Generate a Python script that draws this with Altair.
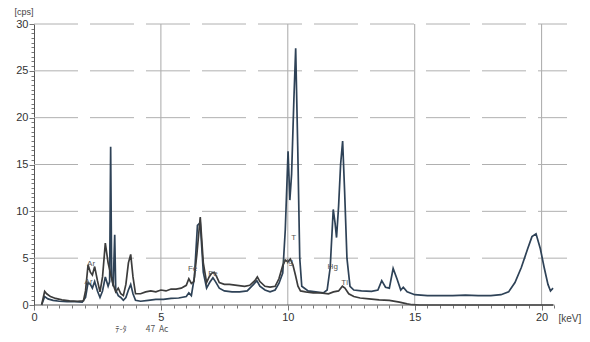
import altair as alt
import pandas as pd

# ---- data ----
gray_kev = [0.30, 0.42, 0.50, 0.65, 0.85, 1.10, 1.40, 1.70, 1.95, 2.03,
            2.13, 2.22, 2.30, 2.39, 2.50, 2.60, 2.70, 2.81, 2.92, 3.02,
            3.12, 3.22, 3.32, 3.42, 3.52, 3.62, 3.72, 3.81, 3.90, 4.00,
            4.20, 4.40, 4.60, 4.80, 5.00, 5.20, 5.40, 5.60, 5.80, 6.00,
            6.10, 6.20, 6.30, 6.42, 6.55, 6.67, 6.80, 6.90, 7.00, 7.10,
            7.20, 7.30, 7.50, 7.70, 8.00, 8.30, 8.50, 8.70, 8.80, 8.90,
            9.10, 9.30, 9.50, 9.65, 9.80, 9.90, 10.00, 10.10, 10.20, 10.30,
            10.40, 10.50, 10.70, 11.00, 11.30, 11.60, 11.80, 12.00, 12.15, 12.25,
            12.40, 12.60, 12.85, 13.20, 13.60, 14.00, 14.40, 14.70, 14.90, 15.20,
            16.00, 17.00, 18.00, 19.00, 20.00, 20.45]
gray_cps = [0.0, 1.45, 1.2, 0.9, 0.7, 0.55, 0.45, 0.4, 0.45, 1.5,
            4.3, 3.5, 3.2, 4.1, 2.6, 1.4, 3.0, 6.6, 4.5, 3.3,
            2.2, 1.4, 1.8, 1.2, 1.0, 2.2, 4.5, 5.4, 3.0, 1.2,
            1.2, 1.4, 1.5, 1.4, 1.6, 1.5, 1.7, 1.7, 1.8, 2.1,
            2.8, 2.3, 2.5, 5.5, 9.4, 4.5, 2.4, 3.0, 3.4, 3.5,
            3.0, 2.4, 2.2, 2.2, 2.1, 2.0, 2.1, 2.6, 3.0, 2.5,
            2.0, 1.9, 2.0, 2.8, 4.2, 4.8, 4.6, 4.9, 4.3, 3.2,
            2.0, 1.5, 1.4, 1.3, 1.3, 1.2, 1.4, 1.5, 2.0, 1.8,
            1.2, 0.9, 0.75, 0.65, 0.55, 0.5, 0.3, 0.12, 0.03, 0.0,
            0.0, 0.0, 0.0, 0.0, 0.0, 0.0]

blue_kev = [0.30, 0.42, 0.55, 0.75, 1.00, 1.30, 1.60, 1.90, 2.03, 2.13,
            2.22, 2.30, 2.39, 2.50, 2.60, 2.70, 2.81, 2.92, 2.98, 3.02,
            3.06, 3.12, 3.18, 3.22, 3.32, 3.42, 3.52, 3.62, 3.72, 3.81,
            3.90, 4.00, 4.20, 4.50, 4.80, 5.10, 5.40, 5.70, 6.00, 6.10,
            6.20, 6.32, 6.44, 6.55, 6.67, 6.80, 6.92, 7.05, 7.15, 7.30,
            7.50, 7.80, 8.10, 8.40, 8.65, 8.78, 8.90, 9.10, 9.30, 9.50,
            9.65, 9.80, 9.90, 10.01, 10.08, 10.15, 10.24, 10.31, 10.39, 10.47,
            10.55, 10.80, 11.10, 11.40, 11.55, 11.67, 11.79, 11.86, 11.92, 12.00,
            12.08, 12.16, 12.24, 12.33, 12.45, 12.60, 12.90, 13.30, 13.55, 13.70,
            13.85, 14.00, 14.15, 14.30, 14.45, 14.55, 14.70, 15.00, 15.50, 16.00,
            16.50, 17.00, 17.50, 18.00, 18.40, 18.70, 18.95, 19.20, 19.45, 19.62,
            19.78, 19.95, 20.10, 20.25, 20.35, 20.45]
blue_cps = [0.0, 0.9, 0.65, 0.5, 0.4, 0.35, 0.35, 0.3, 0.8, 2.4,
            2.2, 1.8, 2.5, 1.5, 0.8, 1.5, 3.0, 2.0, 2.5, 16.9,
            3.0, 2.0, 7.5, 1.6, 1.0, 0.8, 0.5, 0.8, 1.6, 2.2,
            1.2, 0.5, 0.4, 0.5, 0.6, 0.6, 0.7, 0.75, 0.9, 1.3,
            1.0, 3.0, 8.5, 8.8, 3.5, 1.8, 2.4, 2.9, 2.5, 1.8,
            1.5, 1.4, 1.4, 1.5, 2.2, 2.6, 2.0, 1.6, 1.4, 1.6,
            2.3, 3.4, 8.0, 16.4, 11.2, 14.0, 22.0, 27.4, 17.0, 5.0,
            2.0, 1.5, 1.4, 1.3, 1.6, 4.0, 10.2, 8.8, 7.2, 10.5,
            15.0, 17.5, 12.0, 5.0, 2.0, 1.6, 1.5, 1.45, 1.6, 2.6,
            1.9, 1.8, 3.9, 2.8, 1.6, 1.9, 1.4, 1.1, 1.0, 1.0,
            1.0, 1.05, 1.0, 1.0, 1.1, 1.4, 2.4, 4.0, 6.0, 7.3,
            7.6, 6.0, 4.0, 2.2, 1.5, 1.8]

peak_labels = ["Ar", "Ar", "Fe", "Fe", "Hg", "T", "Hg", "Tl"]
peak_kev = [2.25, 2.15, 6.25, 7.05, 10.0, 10.23, 11.77, 12.24]
peak_cps = [4.4, 2.5, 3.8, 3.3, 4.6, 7.2, 4.1, 2.4]

x_ticks = [i * 0.5 for i in range(42)]
y_ticks = [i * 0.5 for i in range(61)]
x_grid = [5, 10, 15, 20]
y_grid = [5, 10, 15, 20, 25, 30]

FONT = "Liberation Sans"

df = pd.concat([
    pd.DataFrame({"keV": blue_kev, "cps": blue_cps, "s": "blue"}),
    pd.DataFrame({"keV": gray_kev, "cps": gray_cps, "s": "gray"}),
])

xscale = alt.Scale(domain=[0, 21], nice=False, zero=False)
yscale = alt.Scale(domain=[0, 30], nice=False)

x_axis = alt.Axis(
    values=x_ticks,
    tickCount=500,
    labelExpr="datum.value % 5 === 0 ? format(datum.value, 'd') : ''",
    labelOverlap=False,
    grid=False,
    domain=False,
    tickColor="#777",
    tickSize={"condition": {"test": "datum.value % 5 === 0", "value": 5}, "value": 3},
    labelFont=FONT, labelFontSize=11, labelColor="#333", labelPadding=1,
    labelFlush=False,
    title="[keV]", titleFont=FONT, titleFontSize=10, titleFontWeight="normal", titleColor="#444",
    titleAngle=0, titleX=524, titleY=13, titleAlign="left", titleBaseline="middle",
)
y_axis = alt.Axis(
    values=y_ticks,
    tickCount=500,
    labelExpr="datum.value % 5 === 0 ? format(datum.value, 'd') : ''",
    labelOverlap=False,
    grid=False,
    domainColor="#555",
    tickColor="#777",
    tickSize={"condition": {"test": "datum.value % 5 === 0", "value": 5}, "value": 3},
    labelFont=FONT, labelFontSize=11, labelColor="#333", labelPadding=1,
    labelFlush=False,
    title="[cps]", titleFont=FONT, titleFontSize=9, titleFontWeight="normal", titleColor="#444",
    titleAngle=0, titleX=-20, titleY=-13, titleAlign="left", titleBaseline="middle",
)

vgrid = alt.Chart(pd.DataFrame({"g": x_grid, "lo": 0.0, "hi": 30.0})).mark_rule(
    color="#a8a8a8", strokeWidth=1
).encode(x=alt.X("g:Q", scale=xscale), y=alt.Y("lo:Q", scale=yscale), y2="hi:Q")

hgrid = alt.Chart(pd.DataFrame({"g": y_grid, "lo": 0.0, "hi": 21.0})).mark_rule(
    color="#b0b0b0", strokeWidth=1, strokeDash=[44, 12]
).encode(y=alt.Y("g:Q", scale=yscale), x=alt.X("lo:Q", scale=xscale), x2="hi:Q")

lines = alt.Chart(df).mark_line(strokeWidth=1.7, interpolate="linear").encode(
    x=alt.X("keV:Q", scale=xscale, axis=x_axis),
    y=alt.Y("cps:Q", scale=yscale, axis=y_axis),
    color=alt.Color("s:N", scale=alt.Scale(domain=["blue", "gray"], range=["#2e4257", "#3c3c3c"]), legend=None),
    detail="s:N",
)

axis_line = alt.Chart(pd.DataFrame({"a": [0.0], "b": [20.5], "y": [0.0]})).mark_rule(
    color="#555", strokeWidth=1
).encode(x=alt.X("a:Q", scale=xscale), x2="b:Q", y=alt.Y("y:Q", scale=yscale))

labels = alt.Chart(pd.DataFrame({"t": peak_labels, "k": peak_kev, "c": peak_cps})).mark_text(
    font=FONT, fontSize=8, color="#555", align="center", baseline="middle"
).encode(x=alt.X("k:Q", scale=xscale), y=alt.Y("c:Q", scale=yscale), text="t:N")

footer = alt.Chart(pd.DataFrame({"t": ["ﾃ-ﾀ" + "\u00a0" * 10 + "47\u00a0\u00a0Ac"], "k": [3.2], "c": [-2.6]})).mark_text(
    font="Noto Sans CJK JP", fontSize=8.5, color="#555", align="left", baseline="middle"
).encode(x=alt.X("k:Q", scale=xscale), y=alt.Y("c:Q", scale=yscale), text="t:N")

chart = alt.layer(vgrid, hgrid, lines, axis_line, labels, footer).properties(
    width=533, height=281,
    padding={"left": 26, "top": 16, "right": 15, "bottom": 29},
    autosize=alt.AutoSizeParams(type="none"),
    background="white",
).configure_view(stroke=None)

chart.save("out.html", embed_options={"renderer": "svg", "actions": False})
